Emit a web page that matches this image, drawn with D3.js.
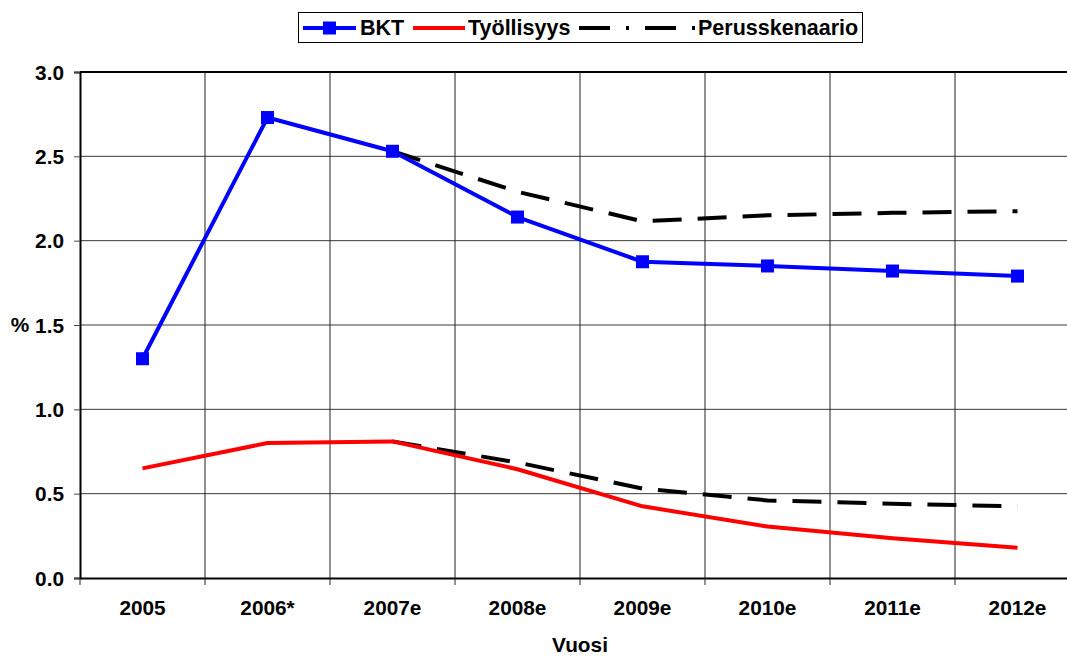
<!DOCTYPE html>
<html><head><meta charset="utf-8">
<script src="https://cdn.jsdelivr.net/npm/d3@7"></script>
<style>
html,body{margin:0;padding:0;background:#fff;overflow:hidden;}
svg{display:block;font-family:"Liberation Sans",Arial,sans-serif;font-weight:bold;}
</style></head>
<body>
<svg id="c" width="1067" height="657"></svg>
<script>
const categories = ["2005","2006*","2007e","2008e","2009e","2010e","2011e","2012e"];
const bkt = [1.30, 2.73, 2.53, 2.14, 1.875, 1.85, 1.82, 1.79];
const tyollisyys = [0.65, 0.80, 0.81, 0.645, 0.425, 0.305, 0.235, 0.18];
const perusBkt = [null, null, 2.53, 2.29, 2.115, 2.15, 2.165, 2.175];
const perusTyo = [null, null, 0.81, 0.685, 0.53, 0.46, 0.44, 0.425];
const yTicks = [0, 0.5, 1.0, 1.5, 2.0, 2.5, 3.0];
const legendNames = ["BKT", "Työllisyys", "Perusskenaario"];

const svg = d3.select("#c");
const pLeft = 80, pRight = 1080, pTop = 72, pBottom = 578;
const FS = 20.8;
const x = d3.scaleBand().domain(categories).range([pLeft, pRight]).padding(0);
const y = d3.scaleLinear().domain([0, 3]).range([pBottom, pTop]);
const cx = d => x(d) + x.bandwidth() / 2;

// horizontal gridlines
svg.append("g").selectAll("line").data(yTicks.filter(t => t > 0 && t < 3)).join("line")
  .attr("x1", pLeft).attr("x2", pRight).attr("y1", d => y(d)).attr("y2", d => y(d))
  .attr("stroke", "#3a3a3a").attr("stroke-width", 1);
// top border
svg.append("line").attr("x1", pLeft).attr("x2", pRight).attr("y1", y(3)).attr("y2", y(3))
  .attr("stroke", "#000").attr("stroke-width", 2);
// vertical gridlines
svg.append("g").selectAll("line").data(categories.slice(1)).join("line")
  .attr("x1", d => x(d)).attr("x2", d => x(d)).attr("y1", pTop).attr("y2", pBottom)
  .attr("stroke", "#222").attr("stroke-width", 1);

// y axis
const yAxis = d3.axisLeft(y).tickValues(yTicks).tickFormat(d3.format(".1f")).tickSize(6).tickPadding(10);
const gy = svg.append("g").attr("transform", `translate(${pLeft},0)`).call(yAxis);
gy.select(".domain").attr("stroke", "#000").attr("stroke-width", 2);
gy.selectAll(".tick line").attr("stroke", "#444").attr("stroke-width", 1);
gy.selectAll("text").attr("font-size", FS).attr("font-weight", "bold").attr("fill", "#000")
  .attr("font-family", "Liberation Sans, Arial, sans-serif").attr("dy", "0.35em");

// x axis
const xAxis = d3.axisBottom(x).tickSize(0).tickPadding(22);
const gx = svg.append("g").attr("transform", `translate(0,${pBottom})`).call(xAxis);
gx.select(".domain").attr("stroke", "#000").attr("stroke-width", 2);
gx.selectAll("text").attr("font-size", FS).attr("font-weight", "bold").attr("fill", "#000")
  .attr("font-family", "Liberation Sans, Arial, sans-serif");
// x tick marks at band boundaries
svg.append("g").selectAll("line").data(categories).join("line")
  .attr("x1", d => x(d)).attr("x2", d => x(d)).attr("y1", pBottom).attr("y2", pBottom + 7)
  .attr("stroke", "#222").attr("stroke-width", 1);

// axis titles
svg.append("text").attr("x", 580).attr("y", 652).attr("text-anchor", "middle")
  .attr("font-size", FS).text("Vuosi");
svg.append("text").attr("x", 20).attr("y", y(1.5)).attr("dy", "0.35em").attr("text-anchor", "middle")
  .attr("font-size", FS).text("%");

const line = d3.line().defined(d => d.v != null).x(d => cx(d.c)).y(d => y(d.v));
const pts = arr => categories.map((c, i) => ({c, v: arr[i]}));

// baseline scenarios (dashed)
[perusBkt, perusTyo].forEach(arr => {
  svg.append("path").datum(pts(arr)).attr("d", line).attr("fill", "none")
    .attr("stroke", "#000").attr("stroke-width", 4).attr("stroke-dasharray", "29,16");
});
// employment
svg.append("path").datum(pts(tyollisyys)).attr("d", line).attr("fill", "none")
  .attr("stroke", "#ff0000").attr("stroke-width", 4).attr("stroke-linejoin", "round");
// GDP
svg.append("path").datum(pts(bkt)).attr("d", line).attr("fill", "none")
  .attr("stroke", "#0000ff").attr("stroke-width", 4).attr("stroke-linejoin", "round");
svg.append("g").selectAll("rect").data(pts(bkt)).join("rect")
  .attr("x", d => cx(d.c) - 6.5).attr("y", d => y(d.v) - 6.5).attr("width", 13).attr("height", 13)
  .attr("fill", "#0000ff");

// legend
const lg = svg.append("g");
lg.append("rect").attr("x", 298.5).attr("y", 12.5).attr("width", 564).attr("height", 30)
  .attr("fill", "#fff").attr("stroke", "#000").attr("stroke-width", 1);
lg.append("line").attr("x1", 303).attr("x2", 356).attr("y1", 28).attr("y2", 28)
  .attr("stroke", "#0000ff").attr("stroke-width", 4);
lg.append("rect").attr("x", 323).attr("y", 21.5).attr("width", 13).attr("height", 13).attr("fill", "#0000ff");
lg.append("line").attr("x1", 413).attr("x2", 465).attr("y1", 28).attr("y2", 28)
  .attr("stroke", "#ff0000").attr("stroke-width", 4);
lg.append("line").attr("x1", 579).attr("x2", 696).attr("y1", 28).attr("y2", 28)
  .attr("stroke", "#000").attr("stroke-width", 4).attr("stroke-dasharray", "31,16,3,16");
const lx = [360, 468, 698];
legendNames.forEach((n, i) => {
  lg.append("text").attr("x", lx[i]).attr("y", 35).attr("font-size", 21.5).text(n);
});
</script>
</body></html>
